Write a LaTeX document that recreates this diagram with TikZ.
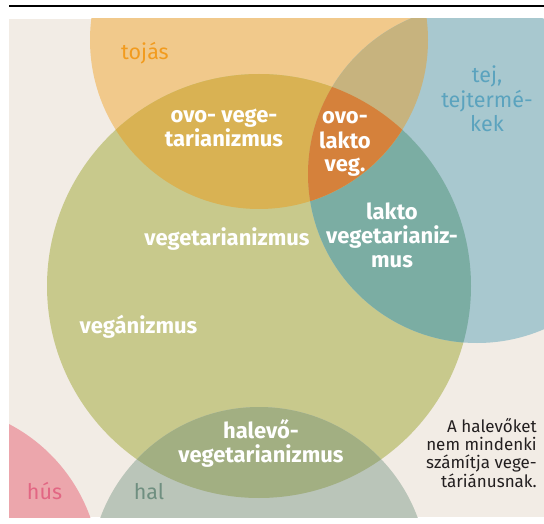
\documentclass[tikz,border=0pt]{standalone}
\usepackage{fontspec}
\setmainfont{Fira Sans}
\usepackage{xcolor}
\usetikzlibrary{positioning}

\definecolor{paper}{HTML}{F2ECE5}
\definecolor{eggfill}{HTML}{F1C98B}
\definecolor{vegfill}{HTML}{C8C98C}
\definecolor{milkfill}{HTML}{A8C8CF}
\definecolor{fishfill}{HTML}{BAC5B9}
\definecolor{meatfill}{HTML}{ECA6AC}
\definecolor{eggveg}{HTML}{D9B253}
\definecolor{eggmilk}{HTML}{C7B37E}
\definecolor{vegmilk}{HTML}{7BADA3}
\definecolor{ovolakto}{HTML}{D5813B}
\definecolor{fishveg}{HTML}{A2AF82}
\definecolor{eggtext}{HTML}{F29B1E}
\definecolor{milktext}{HTML}{5BA3BE}
\definecolor{meattext}{HTML}{E26683}
\definecolor{fishtext}{HTML}{6F8F80}
\definecolor{notetext}{HTML}{231F20}

\begin{document}
\begin{tikzpicture}[
  x=1pt,y=-1pt,
  every node/.style={inner sep=0pt},
  dietlabel/.style={text=white,font=\bfseries\fontsize{22}{24}\selectfont,align=center,anchor=base},
  foodlabel/.style={font=\fontsize{21.5}{24.5}\selectfont,align=center,anchor=base}
]
  \useasboundingbox (0,0) rectangle (544,524);
  \coordinate (rule-l) at (9,6);
  \coordinate (rule-r) at (544,6);
  \draw[line width=1.6pt] (rule-l) -- (rule-r);

  \coordinate (egg) at (259,40);
  \coordinate (veg) at (259,286);
  \coordinate (milk) at (477,174);
  \coordinate (fish) at (259,576);
  \coordinate (meat) at (-69,574);

  \begin{scope}
    \clip (9,19) rectangle (544,517);
    \fill[paper] (9,19) rectangle (544,517);
    \foreach \c/\r/\col in {egg/169/eggfill,veg/212/vegfill,milk/169/milkfill,fish/169/fishfill,meat/169/meatfill}
      \fill[\col] (\c) circle[radius=\r pt];
    % overlaps
    \begin{scope}
      \clip (veg) circle[radius=212pt];
      \fill[vegmilk] (milk) circle[radius=169pt];
      \fill[fishveg] (fish) circle[radius=169pt];
    \end{scope}
    \begin{scope}
      \clip (egg) circle[radius=169pt];
      \fill[eggveg] (veg) circle[radius=212pt];
      \fill[eggmilk] (milk) circle[radius=169pt];
      \clip (veg) circle[radius=212pt];
      \fill[ovolakto] (milk) circle[radius=169pt];
    \end{scope}
  \end{scope}

  % base = last line
  \node[foodlabel,text=eggtext] (egg-l) at (145,60) {tojás};
  \node[foodlabel,text=milktext] (milk-l) at (487,132) {tej,\\tejtermé-\\kek};
  \node[foodlabel,text=meattext] (meat-l) at (44.5,499) {hús};
  \node[foodlabel,text=fishtext] (fish-l) at (149,499) {hal};

  \node[dietlabel] (ovo) at (224,147) {ovo- vege-\\tarianizmus};
  \node[dietlabel] (ovolakto) at (345,172) {ovo-\\lakto\\veg.};
  \node[dietlabel] (lakto) at (392,267) {lakto\\vegetarianiz-\\mus};
  \node[dietlabel] (vegetar) at (227,245) {vegetarianizmus};
  \node[dietlabel] (vegan) at (138.5,333) {vegánizmus};
  \node[dietlabel] (pesco) at (261,462) {halevő-\\vegetarianizmus};

  \node[font=\fontsize{17}{18.3}\selectfont,text=notetext,align=right,anchor=base east] (note) at (537,487)
    {A halevőket\\nem mindenki\\számítja vege-\\táriánusnak.};
\end{tikzpicture}
\end{document}
